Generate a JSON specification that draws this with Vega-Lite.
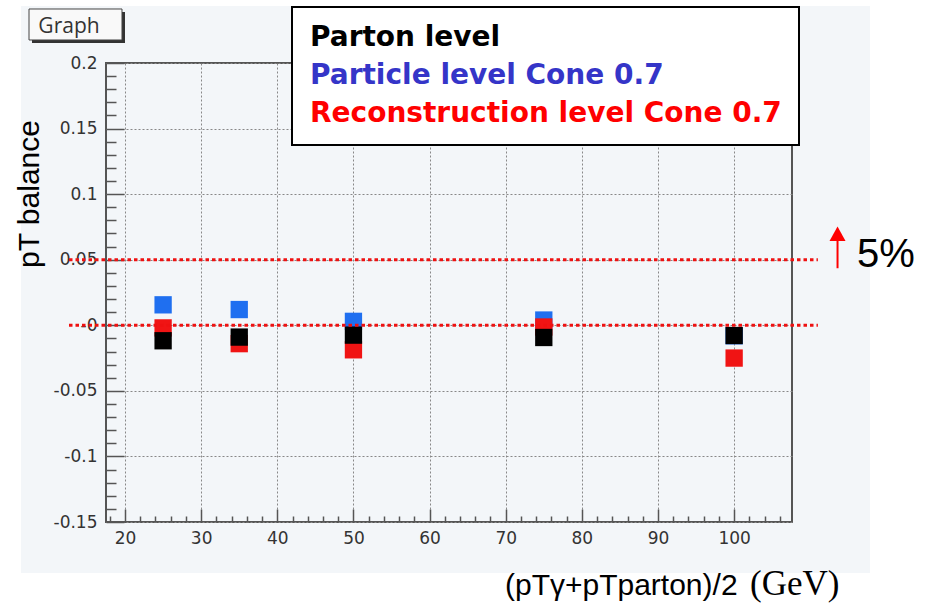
{
  "$schema": "https://vega.github.io/schema/vega-lite/v6.json",
  "width": 686,
  "height": 459,
  "autosize": {"type": "none"},
  "padding": {"left": 106, "top": 63, "right": 143, "bottom": 83},
  "background": "#f3f6f9",
  "config": {"view": {"stroke": "#555555", "strokeWidth": 2}, "font": "DejaVu Sans"},
  "datasets": {
    "frame": [
      {"x1": -100, "x2": 6.34, "y1": -1, "y2": 1},
      {"x1": 117.84, "x2": 300, "y1": -1, "y2": 1},
      {"x1": -100, "x2": 300, "y1": 0.2435, "y2": 1},
      {"x1": -100, "x2": 300, "y1": -1, "y2": -0.1889}
    ],
    "graphShadow": [{"x1": 7.78, "x2": 19.995, "y1": 0.21525, "y2": 0.2389}],
    "graphBox": [{"x1": 7.387, "x2": 19.6, "y1": 0.21754, "y2": 0.24118}],
    "graphLabel": [{"label": "Graph", "x": 12.64, "y": 0.2229}],
    "balance": [
      {"pt": 25, "value": 0.0156, "level": "Particle level Cone 0.7"},
      {"pt": 35, "value": 0.012, "level": "Particle level Cone 0.7"},
      {"pt": 50, "value": 0.003, "level": "Particle level Cone 0.7"},
      {"pt": 75, "value": 0.004, "level": "Particle level Cone 0.7"},
      {"pt": 100, "value": -0.008, "level": "Particle level Cone 0.7"},
      {"pt": 25, "value": -0.002, "level": "Reconstruction level Cone 0.7"},
      {"pt": 35, "value": -0.014, "level": "Reconstruction level Cone 0.7"},
      {"pt": 50, "value": -0.0187, "level": "Reconstruction level Cone 0.7"},
      {"pt": 75, "value": -0.0013, "level": "Reconstruction level Cone 0.7"},
      {"pt": 100, "value": -0.025, "level": "Reconstruction level Cone 0.7"},
      {"pt": 25, "value": -0.0118, "level": "Parton level"},
      {"pt": 35, "value": -0.009, "level": "Parton level"},
      {"pt": 50, "value": -0.0075, "level": "Parton level"},
      {"pt": 75, "value": -0.0093, "level": "Parton level"},
      {"pt": 100, "value": -0.0078, "level": "Parton level"}
    ],
    "bands": [
      {"y": 0.05, "x1": 12.64, "x2": 111.0},
      {"y": 0, "x1": 12.64, "x2": 111.0}
    ],
    "arrowShaft": [{"x": 113.58, "y1": 0.0435, "y2": 0.0666}],
    "arrowHead": [{"x": 113.58, "y": 0.0698}],
    "pct": [{"label": "5%", "x": 116.14, "y": 0.0444}],
    "ytitle": [{"label": "pT balance", "x": 7.52, "y": 0.1001}],
    "xtitle": [{"label": "(pTγ+pTparton)/2", "x": 69.9, "y": -0.2057}],
    "xunit": [{"label": "(GeV)", "x": 102.08, "y": -0.2057}]
  },
  "layer": [
    {
      "data": {"name": "frame"},
      "mark": {"type": "rect", "fill": "#ffffff", "clip": false},
      "encoding": {
        "x": {
          "field": "x1", "type": "quantitative", "title": null,
          "scale": {"domain": [17.5, 107.6], "nice": false, "zero": false},
          "axis": {
            "values": [18, 20, 22, 24, 26, 28, 30, 32, 34, 36, 38, 40, 42, 44, 46, 48, 50, 52, 54, 56, 58, 60, 62, 64, 66, 68, 70, 72, 74, 76, 78, 80, 82, 84, 86, 88, 90, 92, 94, 96, 98, 100, 102, 104, 106],
            "tickCount": 1000,
            "title": null,
            "domain": false,
            "labelExpr": "datum.value % 10 == 0 ? '' + datum.value : ''",
            "labelFont": "DejaVu Sans",
            "labelFontSize": 17,
            "labelColor": "#333333",
            "labelPadding": 21,
            "labelOverlap": false,
            "labelFlush": false,
            "tickColor": "#555555",
            "tickWidth": 1.5,
            "tickSize": {"condition": {"test": "datum.value % 10 == 0", "value": -13}, "value": -6},
            "grid": true,
            "gridColor": "#888888",
            "gridDash": [2, 2],
            "gridWidth": 1,
            "gridOpacity": {"condition": {"test": "datum.value % 10 == 0", "value": 1}, "value": 0}
          }
        },
        "x2": {"field": "x2"},
        "y": {
          "field": "y1", "type": "quantitative", "title": null,
          "scale": {"domain": [-0.15, 0.2], "nice": false, "zero": false},
          "axis": {
            "values": [-0.15, -0.14, -0.13, -0.12, -0.11, -0.1, -0.09, -0.08, -0.07, -0.06, -0.05, -0.04, -0.03, -0.02, -0.01, 0, 0.01, 0.02, 0.03, 0.04, 0.05, 0.06, 0.07, 0.08, 0.09, 0.1, 0.11, 0.12, 0.13, 0.14, 0.15, 0.16, 0.17, 0.18, 0.19, 0.2],
            "tickCount": 1000,
            "title": null,
            "domain": false,
            "labelExpr": "abs(round(datum.value*100)) % 5 == 0 ? (datum.value == 0 ? '-0' : '' + datum.value) : ''",
            "labelFont": "DejaVu Sans",
            "labelFontSize": 17,
            "labelColor": "#333333",
            "labelPadding": 27,
            "labelOverlap": false,
            "labelFlush": false,
            "tickColor": "#555555",
            "tickWidth": 1.5,
            "tickSize": {"condition": {"test": "abs(round(datum.value*100)) % 5 == 0", "value": -18}, "value": -10},
            "grid": true,
            "gridColor": "#888888",
            "gridDash": [2, 2],
            "gridWidth": 1,
            "gridOpacity": {"condition": {"test": "abs(round(datum.value*100)) % 5 == 0", "value": 1}, "value": 0}
          }
        },
        "y2": {"field": "y2"}
      }
    },
    {
      "data": {"name": "graphShadow"},
      "mark": {"type": "rect", "fill": "#333333", "clip": false},
      "encoding": {
        "x": {"field": "x1", "type": "quantitative", "title": null},
        "x2": {"field": "x2"},
        "y": {"field": "y1", "type": "quantitative", "title": null},
        "y2": {"field": "y2"}
      }
    },
    {
      "data": {"name": "graphBox"},
      "mark": {"type": "rect", "fill": "#f9f9f9", "stroke": "#444444", "strokeWidth": 1, "clip": false},
      "encoding": {
        "x": {"field": "x1", "type": "quantitative", "title": null},
        "x2": {"field": "x2"},
        "y": {"field": "y1", "type": "quantitative", "title": null},
        "y2": {"field": "y2"}
      }
    },
    {
      "data": {"name": "graphLabel"},
      "mark": {"type": "text", "font": "Open Sans", "fontSize": 21, "color": "#333333", "align": "center", "baseline": "alphabetic", "clip": false},
      "encoding": {
        "x": {"field": "x", "type": "quantitative", "title": null},
        "y": {"field": "y", "type": "quantitative", "title": null},
        "text": {"field": "label"}
      }
    },
    {
      "data": {"name": "balance"},
      "mark": {"type": "point", "shape": "square", "filled": true, "size": 300, "opacity": 1},
      "encoding": {
        "x": {"field": "pt", "type": "quantitative", "title": null},
        "y": {"field": "value", "type": "quantitative", "title": null},
        "color": {
          "field": "level", "type": "nominal",
          "scale": {"domain": ["Parton level", "Particle level Cone 0.7", "Reconstruction level Cone 0.7"], "range": ["#000000", "#1f6ff0", "#f01414"]},
          "legend": {
            "orient": "none",
            "legendX": 186,
            "legendY": -56,
            "title": null,
            "direction": "vertical",
            "symbolSize": 1,
            "symbolOpacity": 0,
            "symbolStrokeWidth": 0,
            "labelFont": "DejaVu Sans",
            "labelFontSize": 28,
            "labelFontWeight": "bold",
            "labelLimit": 0,
            "labelOffset": -27,
            "rowPadding": 10,
            "padding": 17,
            "fillColor": "#ffffff",
            "strokeColor": "#000000",
            "encode": {
              "labels": {"update": {"fill": {"signal": "datum.value === 'Parton level' ? '#000000' : datum.value === 'Particle level Cone 0.7' ? '#3535c8' : '#ff0000'"}}},
              "symbols": {"update": {"size": {"value": 1}, "opacity": {"value": 0}}},
              "legend": {"update": {"strokeWidth": {"value": 2}}}
            }
          }
        }
      }
    },
    {
      "data": {"name": "bands"},
      "mark": {"type": "rule", "color": "#ee1111", "strokeWidth": 3, "strokeDash": [3.5, 3], "clip": false},
      "encoding": {
        "x": {"field": "x1", "type": "quantitative", "title": null},
        "x2": {"field": "x2"},
        "y": {"field": "y", "type": "quantitative", "title": null}
      }
    },
    {
      "data": {"name": "arrowShaft"},
      "mark": {"type": "rule", "color": "#ff0000", "strokeWidth": 2, "clip": false},
      "encoding": {
        "x": {"field": "x", "type": "quantitative", "title": null},
        "y": {"field": "y1", "type": "quantitative", "title": null},
        "y2": {"field": "y2"}
      }
    },
    {
      "data": {"name": "arrowHead"},
      "mark": {"type": "point", "shape": "M-1,0.9L0,-0.9L1,0.9Z", "filled": true, "color": "#ff0000", "opacity": 1, "size": 256, "clip": false},
      "encoding": {
        "x": {"field": "x", "type": "quantitative", "title": null},
        "y": {"field": "y", "type": "quantitative", "title": null}
      }
    },
    {
      "data": {"name": "pct"},
      "mark": {"type": "text", "font": "Liberation Sans", "fontSize": 40, "color": "#000000", "align": "left", "baseline": "alphabetic", "clip": false},
      "encoding": {
        "x": {"field": "x", "type": "quantitative", "title": null},
        "y": {"field": "y", "type": "quantitative", "title": null},
        "text": {"field": "label"}
      }
    },
    {
      "data": {"name": "ytitle"},
      "mark": {"type": "text", "font": "Liberation Sans", "fontSize": 30, "color": "#000000", "align": "center", "baseline": "middle", "angle": 270, "clip": false},
      "encoding": {
        "x": {"field": "x", "type": "quantitative", "title": null},
        "y": {"field": "y", "type": "quantitative", "title": null},
        "text": {"field": "label"}
      }
    },
    {
      "data": {"name": "xtitle"},
      "mark": {"type": "text", "font": "Liberation Sans", "fontSize": 30, "color": "#000000", "align": "left", "baseline": "alphabetic", "clip": false},
      "encoding": {
        "x": {"field": "x", "type": "quantitative", "title": null},
        "y": {"field": "y", "type": "quantitative", "title": null},
        "text": {"field": "label"}
      }
    },
    {
      "data": {"name": "xunit"},
      "mark": {"type": "text", "font": "Liberation Serif", "fontSize": 35, "color": "#000000", "align": "left", "baseline": "alphabetic", "clip": false},
      "encoding": {
        "x": {"field": "x", "type": "quantitative", "title": null},
        "y": {"field": "y", "type": "quantitative", "title": null},
        "text": {"field": "label"}
      }
    }
  ]
}
